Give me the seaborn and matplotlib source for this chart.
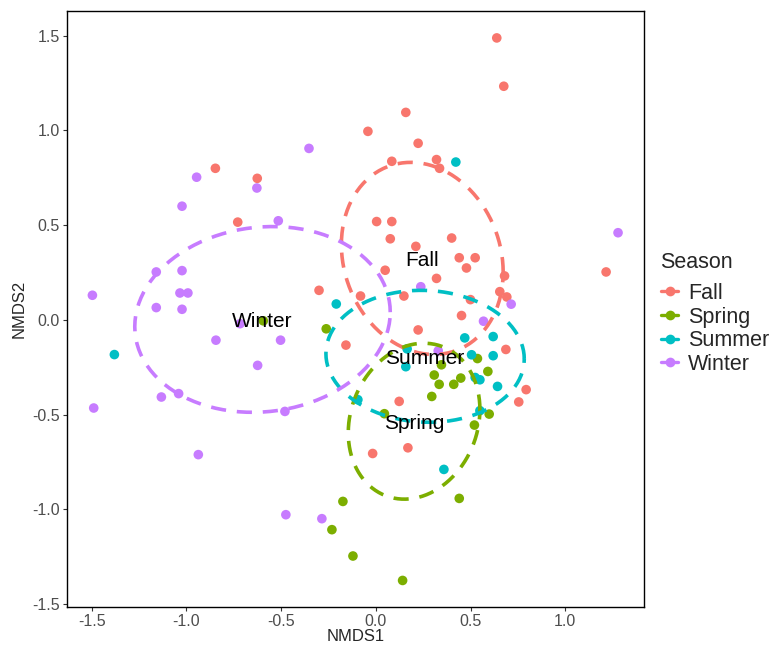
import numpy as np
import pandas as pd
import matplotlib
matplotlib.use('Agg')
import matplotlib.pyplot as plt
from matplotlib.lines import Line2D
import seaborn as sns

# NMDS scores, one pair of lists per season
fall_x = [-0.847, -0.626, -0.729, -0.300, 0.638, 0.675, 0.158, -0.042, 0.223, 0.084,
          0.320, 0.336, 0.004, 0.084, 0.076, 0.400, 0.211, 0.440, 0.524, 0.478,
          0.049, 0.320, 0.679, 0.654, 0.691, 0.499, -0.081, 0.148, 1.215, -0.158,
          0.452, 0.223, 0.686, 0.793, 0.123, 0.754, -0.017, 0.169]
fall_y = [0.800, 0.747, 0.516, 0.156, 1.488, 1.233, 1.095, 0.995, 0.932, 0.837,
          0.846, 0.800, 0.519, 0.519, 0.428, 0.432, 0.388, 0.328, 0.328, 0.274,
          0.262, 0.219, 0.232, 0.149, 0.121, 0.107, 0.126, 0.126, 0.253, -0.133,
          0.023, -0.053, -0.156, -0.368, -0.430, -0.433, -0.705, -0.675]

spring_x = [-0.594, -0.262, -0.174, -0.232, -0.121, 0.536, 0.346, 0.591, 0.308, 0.448,
            0.334, 0.411, 0.295, 0.598, 0.520, 0.440, 0.141, 0.045]
spring_y = [-0.005, -0.047, -0.958, -1.107, -1.246, -0.204, -0.237, -0.272, -0.291, -0.307,
            -0.340, -0.340, -0.404, -0.497, -0.555, -0.942, -1.375, -0.495]

summer_x = [-0.209, 0.422, -1.380, -0.095, 0.469, 0.619, 0.165, 0.505, 0.619, 0.158,
            0.524, 0.549, 0.642, 0.549, 0.359]
summer_y = [0.084, 0.833, -0.183, -0.421, -0.095, -0.088, -0.153, -0.184, -0.189, -0.247,
            -0.304, -0.316, -0.351, -0.479, -0.789]

winter_x = [-0.353, -0.946, -0.628, -1.023, -0.515, -1.023, -1.159, -1.496, -1.034, -0.992,
            -1.159, -1.023, 0.237, 0.714, 1.278, -0.717, -0.844, -0.503, -0.624, -1.132,
            -1.041, -1.489, -0.480, -0.937, -0.475, -0.285, 0.568, 0.329]
winter_y = [0.905, 0.753, 0.696, 0.600, 0.523, 0.260, 0.253, 0.130, 0.142, 0.142,
            0.065, 0.056, 0.175, 0.083, 0.460, -0.020, -0.107, -0.107, -0.240, -0.407,
            -0.389, -0.465, -0.483, -0.711, -1.028, -1.049, -0.007, -0.163]

seasons = ['Fall', 'Spring', 'Summer', 'Winter']
colors = ['#F8766D', '#7CAE00', '#00BFC4', '#C77CFF']

frames = []
for name, xs, ys in zip(seasons, [fall_x, spring_x, summer_x, winter_x],
                        [fall_y, spring_y, summer_y, winter_y]):
    frames.append(pd.DataFrame({'NMDS1': xs, 'NMDS2': ys, 'Season': name}))
df = pd.DataFrame(pd.concat(frames, ignore_index=True))

sns.set_style('white')
plt.rcParams['font.family'] = ['Liberation Sans', 'DejaVu Sans']

fig = plt.figure(figsize=(7.72, 6.48), dpi=100)
ax = fig.add_axes([0.0868, 0.0633, 0.7474, 0.9197])

sns.scatterplot(data=df, x='NMDS1', y='NMDS2', hue='Season', hue_order=seasons,
                palette=colors, s=48, edgecolor='none', linewidth=0, legend=False,
                ax=ax, zorder=2)

# 1-SD covariance ellipse per season (like veganCovEllipse), label at centroid
theta = np.linspace(0, 2 * np.pi, 101)
circle = np.column_stack([np.cos(theta), np.sin(theta)])
for name, col in zip(seasons, colors):
    sub = df[df['Season'] == name]
    pts = sub[['NMDS1', 'NMDS2']].to_numpy()
    center = pts.mean(axis=0)
    cov = np.cov(pts.T)
    q = np.linalg.cholesky(cov).T
    ell = center + circle @ q
    ax.plot(ell[:, 0], ell[:, 1], color=col, lw=2.6, linestyle=(0, (4.2, 3.0)), zorder=3)
    ax.text(center[0], center[1] - 0.01, name, fontsize=15, ha='center', va='center',
            color='black', zorder=4)

ax.set_xlim(-1.63, 1.415)
ax.set_ylim(-1.515, 1.63)
ax.set_xticks([-1.5, -1.0, -0.5, 0.0, 0.5, 1.0])
ax.set_yticks([-1.5, -1.0, -0.5, 0.0, 0.5, 1.0, 1.5])
ax.set_xticklabels(['-1.5', '-1.0', '-0.5', '0.0', '0.5', '1.0'])
ax.set_yticklabels(['-1.5', '-1.0', '-0.5', '0.0', '0.5', '1.0', '1.5'])
ax.tick_params(axis='both', direction='out', length=3, width=0.8, color='#333333',
               labelsize=11.5, labelcolor='#4D4D4D', pad=2, bottom=True, left=True)
ax.set_xlabel('NMDS1', fontsize=12, labelpad=0)
ax.set_ylabel('NMDS2', fontsize=12, labelpad=4)
for sp in ax.spines.values():
    sp.set_color('black')
    sp.set_linewidth(1.0)
ax.grid(False)

# legend: title placed on its own, then point+line keys
fig.text(660 / 772, 1 - 262 / 648, 'Season', fontsize=15.5, ha='left', va='center')
handles = [Line2D([0], [0], color=c, lw=2.4, marker='o', markersize=7,
                  markeredgewidth=0) for c in colors]
fig.legend(handles, seasons, loc='upper left',
           bbox_to_anchor=(661 / 772, 1 - 283 / 648), frameon=False, fontsize=15.5,
           handlelength=0.8, handletextpad=0.45, labelspacing=0.12,
           borderaxespad=0, borderpad=0)

fig.savefig('out.png', dpi=100)
